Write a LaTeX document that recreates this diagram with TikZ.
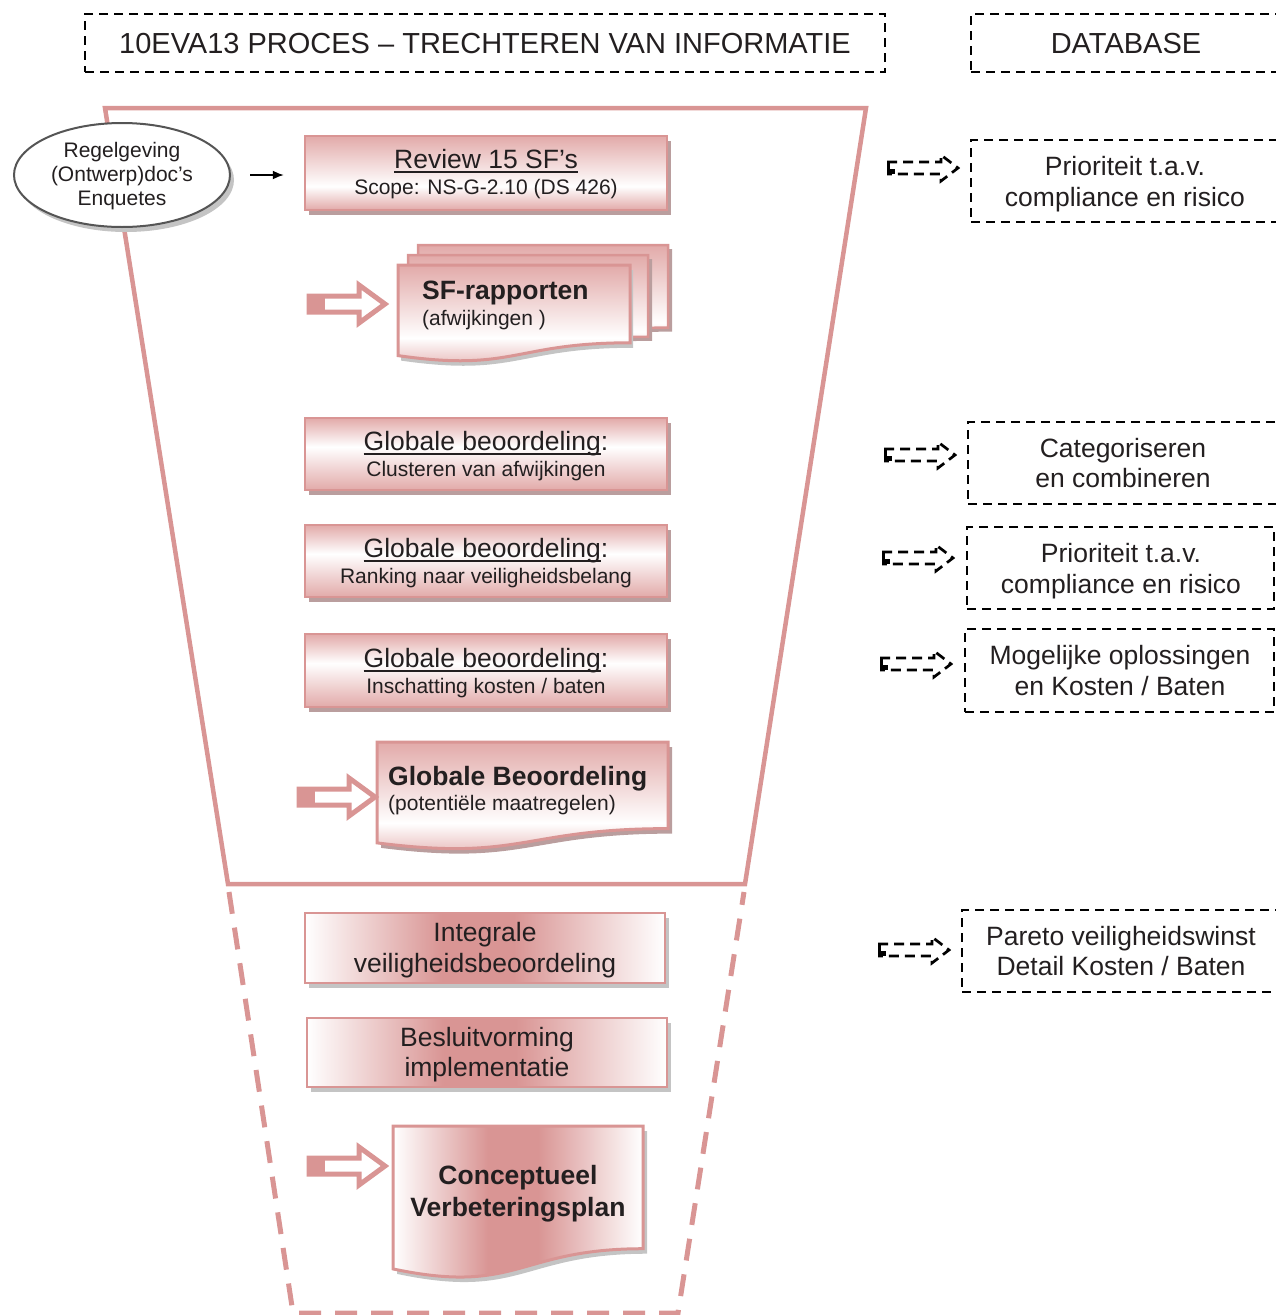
\documentclass[tikz,border=0pt]{standalone}
\usepackage{fontspec}
\setmainfont{Liberation Sans}
\usetikzlibrary{arrows.meta,shapes.geometric}

% underlined text with a rule just below the baseline
\newsavebox{\undlbox}
\newcommand{\undl}[1]{\sbox{\undlbox}{#1}\rlap{\rule[-4.5pt]{\wd\undlbox}{1.6pt}}\usebox{\undlbox}}

\definecolor{pinkc}{RGB}{217,149,148}
\definecolor{pinkshade}{RGB}{226,170,169}
\definecolor{ink}{RGB}{35,31,32}
\definecolor{boxshadow}{RGB}{186,158,158}
\definecolor{grayshadow}{RGB}{196,196,196}
\definecolor{ellline}{RGB}{85,85,85}

% vertical bands: pink at top and bottom, white in between
\pgfdeclareverticalshading{bandhigh}{100bp}{color(0bp)=(pinkshade); color(25bp)=(pinkshade); color(55bp)=(white); color(75bp)=(pinkshade); color(100bp)=(pinkshade)}
\pgfdeclareverticalshading{bandlow}{100bp}{color(0bp)=(pinkshade); color(25bp)=(pinkshade); color(41bp)=(white); color(75bp)=(pinkshade); color(100bp)=(pinkshade)}
% horizontal band: white at both sides, pink across the middle
\pgfdeclarehorizontalshading{bandmid}{100bp}{color(0bp)=(white); color(25bp)=(white); color(44bp)=(pinkc); color(54bp)=(pinkc); color(75bp)=(white); color(100bp)=(white)}

% document sheet with a wavy lower edge: x, y (top left), width, height
\newcommand{\docpath}[4]{(#1,#2) -- ({#1+#3},#2) -- ({#1+#3},{#2+0.802*#4}) .. controls ({#1+#3/2},{#2+0.802*#4}) and ({#1+#3/2},{#2+1.107*#4}) .. (#1,{#2+0.934*#4}) -- cycle}

% hollow block arrow with a solid tail: x (left), y (centre)
\newcommand{\blockarrow}[2]{%
  \draw[pinkc, line width=5pt, fill=white, line join=miter]
    (#1,{#2-8}) -- ({#1+50},{#2-8}) -- ({#1+50},{#2-19}) -- ({#1+76},#2)
    -- ({#1+50},{#2+19}) -- ({#1+50},{#2+8}) -- (#1,{#2+8}) -- cycle;
  \fill[pinkc] ({#1-2},{#2-10}) rectangle ({#1+16},{#2+10});}

% dashed outline arrow pointing at the database boxes: x (left), y (centre)
\newcommand{\dbarrow}[2]{%
  \draw[black, line width=2.7pt, dash pattern=on 10pt off 6pt]
    (#1,{#2-6}) -- ({#1+54},{#2-6}) -- ({#1+54},{#2-13}) -- ({#1+71},#2)
    -- ({#1+54},{#2+13}) -- ({#1+54},{#2+6}) -- (#1,{#2+6});
  \fill[black] (#1,{#2-6}) rectangle ({#1+3},{#2+6});
  \fill[black] ({#1+3},{#2+1}) rectangle ({#1+8},{#2+6});}

\begin{document}
\begin{tikzpicture}[x=1pt,y=-1pt,
  big/.style={font=\fontsize{26.5pt}{31pt}\selectfont, text=ink, inner sep=0pt, anchor=base},
  small/.style={font=\fontsize{21pt}{25pt}\selectfont, text=ink, inner sep=0pt, anchor=base},
  head/.style={font=\fontsize{29pt}{34pt}\selectfont, text=ink, inner sep=0pt, anchor=base},
  dbox/.style={draw=black, line width=2.3pt, dash pattern=on 9pt off 6pt, rectangle, inner sep=0pt},
  pinkbox/.style={draw=pinkc, line width=2.5pt, rectangle, inner sep=0pt, shade, shading=bandhigh},
  flatbox/.style={draw=pinkc, line width=2.5pt, rectangle, inner sep=0pt, shade, shading=bandmid},
  funnel/.style={draw=pinkc, line width=4.5pt, line join=miter},
  funneldash/.style={draw=pinkc, line width=5pt, dash pattern=on 22pt off 14pt}]

\useasboundingbox (0,0) rectangle (1276,1315);
\clip (0,0) rectangle (1276,1315);

% ---------- headers ----------
\node[dbox, minimum width=800pt, minimum height=58pt] (title) at (485,43) {};
\node[head] (titletext) at (485,53) {10EVA13 PROCES – TRECHTEREN VAN INFORMATIE};
\node[dbox, minimum width=330pt, minimum height=58pt] (dbhead) at (1136,43) {};
\node[head] (dbheadtext) at (1126,53) {DATABASE};

% ---------- funnel ----------
\draw[funnel] (228,884) -- (105,108) -- (866,108) -- (745,884) -- cycle;
\draw[funneldash] (229,892) -- (293,1313) -- (678,1313) -- (744,892);

% ---------- sources ----------
\fill[grayshadow] (126,180) ellipse [x radius=108, y radius=52];
\node[ellipse, draw=ellline, line width=2pt, fill=white, minimum width=216pt, minimum height=104pt, inner sep=0pt] (src) at (122,175) {};
\node[small] (src1) at (122,157) {Regelgeving};
\node[small] (src2) at (122,181) {(Ontwerp)doc’s};
\node[small] (src3) at (122,205) {Enquetes};

% ---------- review ----------
\fill[boxshadow] (309,141) rectangle (671,215);
\node[pinkbox, shading=bandlow, minimum width=362pt, minimum height=74pt] (review) at (486,173) {};
\node[big] (review1) at (486,168) {\undl{Review 15 SF’s}};
\node[small] (review2) at (486,194) {Scope: NS-G-2.10 (DS 426)};
\draw[-{Latex[length=11pt,width=9pt]}, line width=1.6pt, black, shorten <=19pt, shorten >=20pt] (src.east) -- (src.east -| review.west);

% ---------- SF reports (stacked sheets) ----------
\fill[boxshadow, shift={(4,4)}] \docpath{418}{245}{250}{103};
\path[draw=pinkc, line width=2.5pt, shade, shading=bandlow] \docpath{418}{245}{250}{103};
\fill[boxshadow, shift={(4,4)}] \docpath{408}{255}{240}{102};
\path[draw=pinkc, line width=2.5pt, shade, shading=bandlow] \docpath{408}{255}{240}{102};
\fill[grayshadow, shift={(3,5)}] \docpath{398}{265}{232}{97};
\path[draw=pinkc, line width=3pt, shade, shading=bandlow] \docpath{398}{265}{232}{97};
\coordinate (sfdoc) at (514,300);
\node[big, anchor=base west, font=\fontsize{26.5pt}{31pt}\selectfont\bfseries] (sf1) at (422,299) {SF-rapporten};
\node[small, anchor=base west] (sf2) at (422,325) {(afwijkingen )};
\blockarrow{309}{304}

% ---------- global assessment steps ----------
\fill[boxshadow] (309,423) rectangle (671,495);
\node[pinkbox, minimum width=362pt, minimum height=72pt] (gb1) at (486,454) {};
\node[big] (gb1a) at (486,450) {\undl{Globale beoordeling}:};
\node[small] (gb1b) at (486,476) {Clusteren van afwijkingen};

\fill[boxshadow] (309,530) rectangle (671,602);
\node[pinkbox, minimum width=362pt, minimum height=72pt] (gb2) at (486,561) {};
\node[big] (gb2a) at (486,557) {\undl{Globale beoordeling}:};
\node[small] (gb2b) at (486,583) {Ranking naar veiligheidsbelang};

\fill[boxshadow] (309,639) rectangle (671,712);
\node[pinkbox, minimum width=362pt, minimum height=73pt] (gb3) at (486,670.5) {};
\node[big] (gb3a) at (486,667) {\undl{Globale beoordeling}:};
\node[small] (gb3b) at (486,693) {Inschatting kosten / baten};

% ---------- global assessment result ----------
\fill[boxshadow, shift={(4,5)}] \docpath{377}{742}{291}{108};
\path[draw=pinkc, line width=3pt, shade, shading=bandlow] \docpath{377}{742}{291}{108};
\coordinate (gbdoc) at (522,790);
\node[big, anchor=base west, font=\fontsize{26.5pt}{31pt}\selectfont\bfseries] (gbd1) at (388,785) {Globale Beoordeling};
\node[small, anchor=base west] (gbd2) at (388,810) {(potentiële maatregelen)};
\blockarrow{299}{797}

% ---------- integral steps ----------
\fill[grayshadow] (309,918) rectangle (669,988);
\node[flatbox, minimum width=360pt, minimum height=70pt] (integ) at (485,948) {};
\node[big] (integ1) at (485,941) {Integrale};
\node[big] (integ2) at (485,972) {veiligheidsbeoordeling};

\fill[grayshadow] (311,1023) rectangle (671,1092);
\node[flatbox, minimum width=360pt, minimum height=69pt] (besl) at (487,1052.5) {};
\node[big] (besl1) at (487,1046) {Besluitvorming};
\node[big] (besl2) at (487,1076) {implementatie};

% ---------- improvement plan ----------
\fill[grayshadow, shift={(4,5)}] \docpath{393}{1126}{250}{153};
\path[draw=pinkc, line width=3pt, shade, shading=bandmid] \docpath{393}{1126}{250}{153};
\coordinate (plan) at (518,1195);
\node[big, font=\fontsize{26.5pt}{31pt}\selectfont\bfseries] (plan1) at (518,1184) {Conceptueel};
\node[big, font=\fontsize{26.5pt}{31pt}\selectfont\bfseries] (plan2) at (518,1216) {Verbeteringsplan};
\blockarrow{309}{1166}

% ---------- database entries ----------
\node[dbox, minimum width=330pt, minimum height=82pt] (db1) at (1136,181) {};
\node[big] (db1a) at (1125,175) {Prioriteit t.a.v.};
\node[big] (db1b) at (1125,206) {compliance en risico};
\dbarrow{887}{168}

\node[dbox, minimum width=330pt, minimum height=82pt] (db2) at (1133,463) {};
\node[big] (db2a) at (1123,457) {Categoriseren};
\node[big] (db2b) at (1123,487) {en combineren};
\dbarrow{884}{455}

\node[dbox, minimum width=307pt, minimum height=82pt] (db3) at (1120.5,568) {};
\node[big] (db3a) at (1121,562) {Prioriteit t.a.v.};
\node[big] (db3b) at (1121,593) {compliance en risico};
\dbarrow{882}{558}

\node[dbox, minimum width=309pt, minimum height=83pt] (db4) at (1119.5,670.5) {};
\node[big] (db4a) at (1120,664) {Mogelijke oplossingen};
\node[big] (db4b) at (1120,695) {en Kosten / Baten};
\dbarrow{880}{664}

\node[dbox, minimum width=330pt, minimum height=82pt] (db5) at (1127,951) {};
\node[big] (db5a) at (1121,945) {Pareto veiligheidswinst};
\node[big] (db5b) at (1121,975) {Detail Kosten / Baten};
\dbarrow{878}{950}

\end{tikzpicture}
\end{document}
